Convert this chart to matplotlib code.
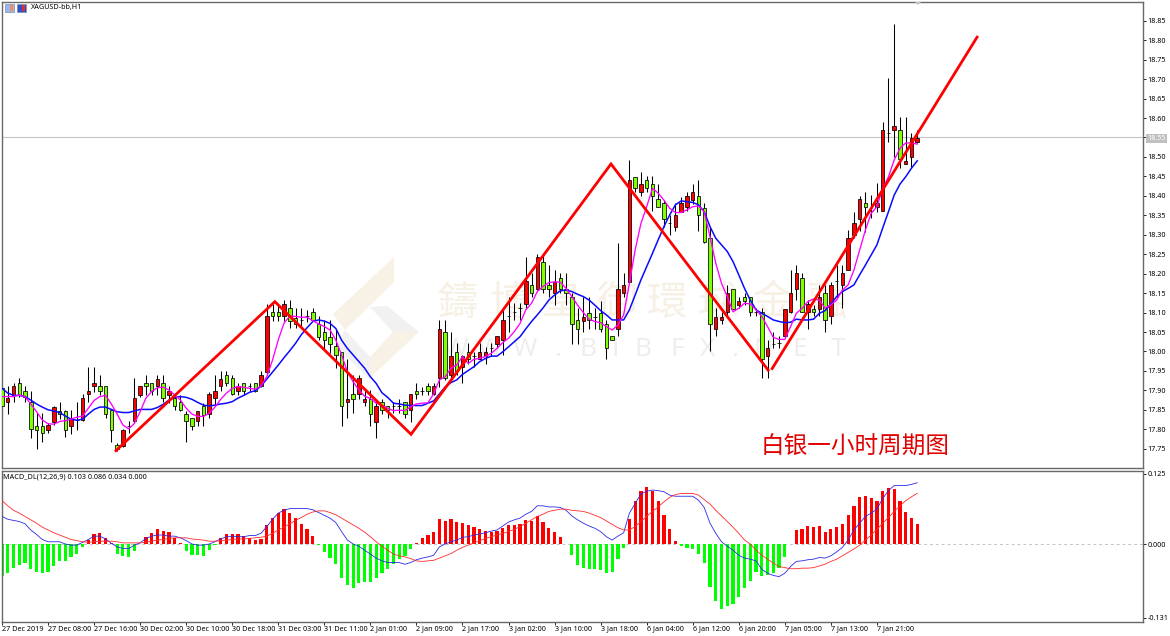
import matplotlib
matplotlib.use("Agg")
import matplotlib.pyplot as plt
from matplotlib.patches import Polygon, Rectangle
from matplotlib.transforms import Affine2D
import numpy as np

plt.rcParams['font.family'] = ['Noto Sans', 'DejaVu Sans']

symbol = "XAGUSD-bb,H1"
macd_title = "MACD_DL(12,26,9) 0.103 0.086 0.034 0.000"
note_text = "白银一小时周期图"
wm_cn = list("鑄博皇御環球金融")
wm_en = list("WWW.BIBFX.NET")
last_price = 18.55

time_labels = ["27 Dec 2019", "27 Dec 08:00", "27 Dec 16:00", "30 Dec 02:00", "30 Dec 10:00",
               "30 Dec 18:00", "31 Dec 03:00", "31 Dec 11:00", "2 Jan 01:00", "2 Jan 09:00",
               "2 Jan 17:00", "3 Jan 02:00", "3 Jan 10:00", "3 Jan 18:00", "6 Jan 04:00",
               "6 Jan 12:00", "6 Jan 20:00", "7 Jan 05:00", "7 Jan 13:00", "7 Jan 21:00"]
price_ticks = [17.75, 17.80, 17.85, 17.90, 17.95, 18.00, 18.05, 18.10, 18.15, 18.20, 18.25, 18.30,
               18.35, 18.40, 18.45, 18.50, 18.55, 18.60, 18.65, 18.70, 18.75, 18.80, 18.85]
macd_ticks = [0.125, 0.0, -0.131]

opens = [17.906,17.869,17.887,17.918,17.899,17.871,17.809,17.809,17.798,17.818,
         17.848,17.848,17.809,17.824,17.824,17.890,17.910,17.910,17.910,17.850,
         17.760,17.758,17.809,17.820,17.888,17.918,17.918,17.910,17.918,17.888,
         17.880,17.869,17.839,17.828,17.820,17.860,17.839,17.880,17.910,17.940,
         17.931,17.899,17.918,17.910,17.918,17.910,17.948,18.101,18.101,18.090,
         18.111,18.085,18.080,18.092,18.101,18.071,18.051,18.038,18.014,17.999,
         17.869,17.890,17.891,17.869,17.879,17.819,17.869,17.861,17.861,17.861,
         17.869,17.849,17.899,17.899,17.911,17.890,17.931,18.051,17.939,17.999,
         17.959,17.999,17.989,17.980,17.989,18.010,18.019,18.029,18.091,18.102,
         18.111,18.121,18.171,18.160,18.229,18.171,18.149,18.190,18.160,18.139,
         18.081,18.079,18.100,18.089,18.100,18.070,18.040,18.059,18.149,18.179,
         18.449,18.411,18.441,18.431,18.391,18.381,18.329,18.319,18.359,18.371,
         18.389,18.400,18.370,18.291,18.059,18.081,18.101,18.160,18.120,18.139,
         18.139,18.101,18.101,17.989,18.019,18.021,18.040,18.101,18.160,18.190,
         18.101,18.109,18.109,18.149,18.090,18.181,18.171,18.209,18.299,18.341,
         18.381,18.360,18.371,18.361,18.561,18.569,18.569,18.481,18.499,18.539]
closes = [17.860,17.880,17.910,17.888,17.884,17.800,17.798,17.790,17.810,17.858,
          17.839,17.798,17.826,17.824,17.880,17.899,17.919,17.899,17.839,17.798,
          17.749,17.798,17.809,17.880,17.910,17.910,17.899,17.929,17.880,17.899,
          17.860,17.850,17.820,17.809,17.848,17.837,17.890,17.899,17.929,17.918,
          17.890,17.910,17.899,17.910,17.899,17.940,18.090,18.090,18.090,18.122,
          18.079,18.070,18.080,18.092,18.081,18.038,18.029,18.019,17.991,17.861,
          17.879,17.879,17.931,17.879,17.839,17.861,17.849,17.849,17.861,17.861,
          17.839,17.890,17.890,17.899,17.899,17.911,18.059,17.931,17.989,17.951,
          17.989,17.980,17.989,17.999,17.999,18.010,18.040,18.081,18.091,18.102,
          18.111,18.181,18.149,18.242,18.160,18.160,18.179,18.160,18.149,18.070,
          18.059,18.089,18.081,18.089,18.059,18.010,18.029,18.160,18.171,18.441,
          18.419,18.431,18.419,18.400,18.371,18.340,18.329,18.351,18.381,18.400,
          18.411,18.350,18.281,18.071,18.089,18.089,18.149,18.109,18.130,18.130,
          18.101,18.101,17.980,18.010,18.019,18.021,18.109,18.149,18.201,18.101,
          18.122,18.101,18.139,18.081,18.171,18.181,18.201,18.291,18.329,18.391,
          18.371,18.360,18.381,18.569,18.561,18.580,18.495,18.490,18.549,18.549]
highs = [17.910,17.910,17.918,17.931,17.910,17.899,17.841,17.841,17.815,17.860,
         17.870,17.850,17.850,17.869,17.891,17.959,17.959,17.940,17.910,17.850,
         17.764,17.800,17.820,17.931,17.910,17.940,17.918,17.940,17.940,17.910,
         17.888,17.888,17.846,17.828,17.848,17.867,17.897,17.940,17.951,17.951,
         17.940,17.918,17.920,17.920,17.918,17.951,18.122,18.122,18.122,18.131,
         18.131,18.111,18.111,18.106,18.111,18.090,18.081,18.081,18.059,17.999,
         17.980,17.939,17.939,17.901,17.901,17.879,17.879,17.861,17.871,17.879,
         17.869,17.890,17.918,17.909,17.918,17.918,18.081,18.081,18.051,18.021,
         17.991,18.021,17.999,18.021,18.012,18.021,18.040,18.111,18.141,18.124,
         18.124,18.242,18.201,18.250,18.248,18.222,18.209,18.201,18.201,18.149,
         18.111,18.139,18.141,18.111,18.130,18.081,18.040,18.280,18.201,18.492,
         18.449,18.461,18.451,18.451,18.431,18.389,18.351,18.381,18.398,18.411,
         18.431,18.441,18.381,18.319,18.111,18.101,18.171,18.160,18.141,18.149,
         18.139,18.111,18.111,18.030,18.051,18.040,18.109,18.209,18.221,18.201,
         18.131,18.120,18.171,18.171,18.179,18.222,18.222,18.312,18.359,18.400,
         18.411,18.402,18.432,18.591,18.702,18.842,18.602,18.602,18.561,18.569]
lows = [17.841,17.839,17.869,17.884,17.869,17.777,17.749,17.768,17.790,17.811,
        17.826,17.779,17.788,17.798,17.820,17.869,17.897,17.888,17.828,17.768,
        17.745,17.755,17.790,17.817,17.884,17.888,17.888,17.888,17.871,17.867,
        17.850,17.848,17.768,17.798,17.809,17.809,17.828,17.860,17.899,17.910,
        17.888,17.888,17.888,17.899,17.897,17.908,17.940,18.079,18.079,18.079,
        18.060,18.060,18.060,18.075,18.079,18.030,18.004,17.995,17.957,17.809,
        17.828,17.841,17.879,17.861,17.809,17.778,17.839,17.828,17.841,17.841,
        17.828,17.819,17.879,17.888,17.888,17.888,17.909,17.927,17.931,17.939,
        17.918,17.969,17.961,17.980,17.969,17.989,18.008,17.991,18.051,18.081,
        18.081,18.111,18.141,18.158,18.149,18.141,18.119,18.149,18.119,18.019,
        18.019,18.049,18.059,18.059,18.051,17.981,18.029,18.040,18.141,18.179,
        18.411,18.400,18.411,18.361,18.371,18.319,18.299,18.310,18.359,18.361,
        18.379,18.310,18.280,18.001,18.040,18.071,18.089,18.109,18.111,18.120,
        18.091,18.090,17.931,17.931,18.010,18.010,18.038,18.100,18.132,18.101,
        18.059,18.090,18.090,18.051,18.071,18.141,18.111,18.209,18.291,18.310,
        18.308,18.342,18.359,18.361,18.539,18.500,18.471,18.481,18.475,18.537]

ma_fast = [17.884,17.884,17.884,17.888,17.884,17.865,17.845,17.824,17.814,17.813,
           17.820,17.822,17.826,17.831,17.834,17.854,17.874,17.884,17.887,17.865,
           17.839,17.811,17.801,17.815,17.845,17.880,17.897,17.907,17.908,17.901,
           17.888,17.875,17.854,17.839,17.833,17.833,17.841,17.857,17.877,17.893,
           17.905,17.910,17.908,17.905,17.903,17.911,17.935,17.978,18.030,18.073,
           18.091,18.090,18.088,18.088,18.079,18.071,
           18.064,18.055,18.029,17.991,17.948,17.922,17.901,17.885,17.879,17.867,
           17.862,17.854,17.848,17.849,17.848,17.858,17.865,17.867,17.868,17.891,
           17.927,17.935,17.957,17.965,17.987,17.969,17.980,17.982,17.987,17.995,
           18.008,18.023,18.034,18.051,18.072,18.107,18.124,18.154,18.167,18.177,
           18.179,18.178,18.162,18.141,18.119,18.100,18.083,18.077,18.074,18.064,
           18.055,18.068,18.094,
           18.175,18.261,18.329,18.372,18.419,18.407,18.389,18.368,18.357,18.357,
           18.364,18.372,18.374,18.359,18.295,18.227,18.175,18.141,18.102,18.111,
           18.124,18.122,18.107,18.090,18.064,18.036,18.031,18.031,18.064,18.098,
           18.111,18.128,18.135,18.132,18.111,18.120,18.132,18.158,18.171,18.209,
           18.261,18.312,18.355,18.372,18.419,18.449,18.492,18.522,18.536,18.536,18.533]
ma_slow = [17.905,17.893,17.887,17.887,17.884,17.875,17.865,17.857,17.850,17.847,
           17.843,17.834,17.826,17.823,17.826,17.839,17.851,17.857,17.857,17.851,
           17.845,17.843,17.843,17.847,17.851,17.851,17.851,17.856,17.864,17.875,
           17.882,17.884,17.882,17.877,17.869,17.862,17.860,17.862,17.865,17.867,
           17.871,17.880,17.887,17.895,17.899,17.911,17.929,17.947,17.965,17.984,
           18.002,18.021,18.043,18.061,18.077,18.081,
           18.078,18.072,18.059,18.029,18.008,17.991,17.974,17.957,17.935,17.918,
           17.894,17.882,17.867,17.865,17.862,17.861,17.861,17.861,17.867,17.873,
           17.891,17.909,17.920,17.927,17.941,17.951,17.961,17.974,17.982,17.988,
           17.988,17.999,18.012,18.025,18.038,18.058,18.077,18.094,18.112,18.132,
           18.145,18.156,18.158,18.154,18.147,18.141,18.132,18.119,18.105,18.094,
           18.081,18.081,18.081,
           18.107,18.145,18.184,18.218,18.252,18.287,18.321,18.351,18.377,18.387,
           18.385,18.383,18.377,18.359,18.321,18.291,18.274,18.257,18.231,18.197,
           18.162,18.132,18.107,18.098,18.090,18.081,18.077,18.074,18.075,18.083,
           18.081,18.081,18.083,18.098,18.105,18.122,18.141,18.154,18.162,18.171,
           18.197,18.222,18.248,18.274,18.317,18.359,18.402,18.430,18.449,18.471,18.490]

zig_bar = [19.8, 47.4, 71.06, 105.8, 133.1]
zig_price = [17.745, 18.128, 17.787, 18.482, 17.952]
rise_bar = [133.8, 169.4]
rise_price = [17.956, 18.808]

macd_hist = [-.057,-.051,-.042,-.037,-.034,-.044,-.049,-.052,-.049,-.039,
             -.031,-.030,-.024,-.018,-.006,.007,.017,.020,.011,.002,
             -.018,-.021,-.023,-.012,0,.012,.020,.027,.024,.022,
             .011,.002,-.012,-.020,-.020,-.021,-.011,-.001,.010,.017,
             .017,.018,.014,.011,.008,.009,.033,.047,.055,.062,
             .055,.046,.036,.027,.014,-.001,-.015,-.025,-.036,-.060,
             -.073,-.078,-.070,-.068,-.067,-.060,-.052,-.044,-.035,-.027,
             -.021,-.009,.002,.011,.016,.021,.045,.041,.045,.039,
             .037,.034,.030,.027,.023,.022,.023,.029,.033,.034,
             .035,.043,.041,.049,.040,.029,.022,.012,0,-.020,
             -.037,-.042,-.044,-.044,-.046,-.051,-.049,-.027,-.007,.044,
             .077,.095,.102,.095,.077,.052,.026,.005,-.003,-.007,
             -.009,-.018,-.034,-.076,-.101,-.115,-.110,-.107,-.094,-.079,
             -.066,-.049,-.057,-.056,-.051,-.043,-.023,0,.025,.027,
             .032,.030,.032,.022,.027,.030,.035,.052,.067,.084,
             .086,.082,.076,.094,.099,.098,.077,.057,.047,.036]
macd_main = [.049,.044,.042,.040,.036,.025,.017,.008,.004,.004,
             .004,0,-.002,-.002,.003,.008,.014,.014,.009,.001,
             -.005,-.008,-.008,-.002,.002,.010,.014,.016,.016,.014,
             .014,.011,.006,0,-.002,-.002,0,.004,.009,.013,
             .014,.013,.013,.015,.015,.019,.031,.044,.055,.060,
             .063,.063,.063,.063,.061,.056,.051,.046,.038,.022,
             .007,0,-.004,-.011,-.018,-.025,-.030,-.033,-.033,-.033,
             -.036,-.033,-.028,-.025,-.023,-.020,-.005,0,.004,.007,
             .012,.013,.016,.018,.020,.023,.025,.032,.039,.043,
             .046,.053,.058,.068,.068,.066,.066,.065,.060,.050,
             .043,.037,.032,.028,.022,.013,.007,.014,.020,.055,
             .072,.089,.094,.096,.095,.093,.087,.085,.085,.085,
             .085,.078,.065,.037,.019,.004,-.004,-.011,-.020,-.025,
             -.027,-.030,-.045,-.052,-.056,-.058,-.052,-.040,-.031,
             -.030,-.028,-.027,-.024,-.025,-.021,-.014,-.006,.007,.025,
             .037,.049,.055,.062,.081,.095,.104,.104,.104,.106,.109]
macd_signal = [.077,.068,.060,.055,.049,.043,.037,.030,.025,.020,
               .016,.012,.008,.006,.004,.003,.004,.005,.005,.005,
               .004,.002,.002,.002,.002,.003,.005,.007,.008,.010,
               .011,.011,.011,.009,.008,.007,.005,.005,.006,.007,
               .008,.009,.009,.010,.011,.012,.014,.019,.025,.030,
               .036,.042,.047,.053,.057,.059,.059,.056,.052,.046,
               .040,.034,.028,.021,.013,.004,-.004,-.011,-.018,-.021,
               -.023,-.026,-.030,-.031,-.030,-.029,-.025,-.021,-.017,-.011,
               -.006,-.002,.002,.006,.010,.013,.016,.019,.022,.026,
               .031,.037,.043,.049,.053,.058,.060,.062,.062,.060,
               .059,.058,.055,.051,.047,.041,.035,.029,.025,.025,
               .031,.040,.049,.058,.066,.075,.083,.088,.090,.090,
               .090,.087,.079,.071,.060,.050,.040,.030,.019,.007,
               0,-.011,-.020,-.027,-.034,-.040,-.042,-.044,-.044,
               -.043,-.043,-.042,-.039,-.036,-.031,-.027,-.021,-.015,-.009,
               -.002,.007,.016,.026,.037,.047,.058,.068,.077,.084,.090]

W, H = 1170, 636
fig = plt.figure(figsize=(W / 100, H / 100), dpi=100, facecolor='white')
px = Affine2D().scale(1, -1).translate(0, H)


def axes_px(x0, y0, x1, y1):
    return fig.add_axes([x0 / W, 1 - y1 / H, (x1 - x0) / W, (y1 - y0) / H], facecolor='none')


bars = np.arange(len(opens))
o, h, l, c = map(np.array, (opens, highs, lows, closes))
border = '#686868'
small = dict(fontsize=5.2, color='black')

# watermark, under the panes
TAN, PALE = '#f8f2e6', '#f1f1f1'
for pts, col in [([(394, 257), (394, 282), (345, 330), (333, 314)], TAN),
                 ([(345, 330), (370, 357), (370, 380), (336, 346)], PALE),
                 ([(370, 307), (387, 306), (419, 332), (393, 332)], PALE),
                 ([(393, 332), (419, 332), (370, 378), (370, 357)], TAN)]:
    fig.add_artist(Polygon(pts, closed=True, fc=col, ec='none', transform=px, zorder=-2))
for ch, xp in zip(wm_cn, [457, 510, 562, 617, 667, 718, 773, 827]):
    fig.text(xp, 303, ch, transform=px, ha='center', va='center', fontsize=29, weight='medium',
             color='#f7f0e4', family=['Noto Sans CJK TC', 'DejaVu Sans'], zorder=-2)
for ch, xp in zip(wm_en, [456, 490, 525, 558, 588, 615, 643, 677, 708, 735, 763, 800, 838]):
    fig.text(xp, 350, ch, transform=px, ha='center', va='center', fontsize=19,
             color='#ededed', family='Open Sans', zorder=-2)

# price pane
ax = axes_px(1.5, 1.5, 1142.5, 468)
ax.set_xlim(-0.087, 198.14)
ax.set_ylim(17.7004, 18.8996)
ax.axhline(last_price, color='#c4c4c4', lw=0.8, zorder=1)
ax.vlines(bars, l, h, color='black', lw=0.75, zorder=2)
colors = ['#ff0000' if cc >= oo else '#7fff00' for oo, cc in zip(o, c)]
ax.bar(bars, c - o, bottom=o, width=0.6, color=colors, edgecolor='black', linewidth=0.55, zorder=3)
ax.plot(bars, ma_slow, color='#0a0aff', lw=1.1, zorder=4)
ax.plot(bars, ma_fast, color='#ff00ff', lw=0.95, zorder=5)
ax.plot(zig_bar, zig_price, color='#ff0000', lw=2.0, zorder=6, solid_joinstyle='miter')
ax.plot(rise_bar, rise_price, color='#ff0000', lw=2.0, zorder=6)
ax.set_xticks([])
ax.yaxis.tick_right()
ax.set_yticks(price_ticks)
ax.set_yticklabels([f"{t:.2f}" for t in price_ticks], **small)
ax.tick_params(axis='y', length=2.2, width=0.6, color='black', pad=1.2)
for t, v in zip(ax.get_yticklabels(), price_ticks):
    if abs(v - last_price) < 1e-9:
        t.set_color('white')
        t.set_bbox(dict(fc='#c0c0c0', ec='none', pad=0.9))
for s in ax.spines.values():
    s.set_color(border)
    s.set_linewidth(1.0)

# MACD pane
ax2 = axes_px(1.5, 470.5, 1142.5, 621.5)
ax2.set_xlim(-0.087, 198.14)
ax2.set_ylim(-0.1379, 0.1308)
ax2.axhline(0, color='#c4c4c4', lw=0.7, ls=(0, (3, 3)), zorder=1)
hcolors = ['#ff0000' if v > 0 else '#00ff00' for v in macd_hist]
ax2.bar(bars, macd_hist, width=0.56, color=hcolors, linewidth=0, zorder=2)
ax2.plot(bars, macd_main, color='#2a2ae8', lw=0.6, zorder=3)
ax2.plot(bars, macd_signal, color='#ff2a2a', lw=0.6, zorder=3)
ax2.yaxis.tick_right()
ax2.set_yticks(macd_ticks)
ax2.set_yticklabels([f"{t:.3f}" for t in macd_ticks], **small)
ax2.tick_params(axis='y', length=2.2, width=0.6, pad=1.2)
ax2.set_xticks(bars[::8][:len(time_labels)])
ax2.set_xticklabels(time_labels, ha='left', **small)
ax2.tick_params(axis='x', length=2.2, width=0.6, pad=0.8, direction='out')
for s in ax2.spines.values():
    s.set_color(border)
    s.set_linewidth(1.0)

# captions and toolbar marks
fig.text(31, 7, symbol, transform=px, va='center', **small)
fig.text(3, 476.5, macd_title, transform=px, va='center', **small)
fig.text(855.5, 447.5, note_text, transform=px, ha='center', va='center', fontsize=17,
         color='#e00000', weight='medium', family=['Noto Sans CJK SC', 'DejaVu Sans'])
for x0, c1, c2 in [(5, '#9fb4e8', '#e88f70'), (17, '#3050c8', '#d83030')]:
    fig.add_artist(Rectangle((x0, 4), 9, 8, fc=c1, ec='#8090a8', lw=0.5, transform=px, zorder=5))
    fig.add_artist(Rectangle((x0 + 5, 5), 3, 6, fc=c2, ec='none', transform=px, zorder=5))
fig.add_artist(Polygon([(915, 2), (921, 2), (918, 5)], closed=True, fc='#c4c4c4', ec='none',
                       transform=px, zorder=5))

fig.savefig("out.png", dpi=100, facecolor='white')
